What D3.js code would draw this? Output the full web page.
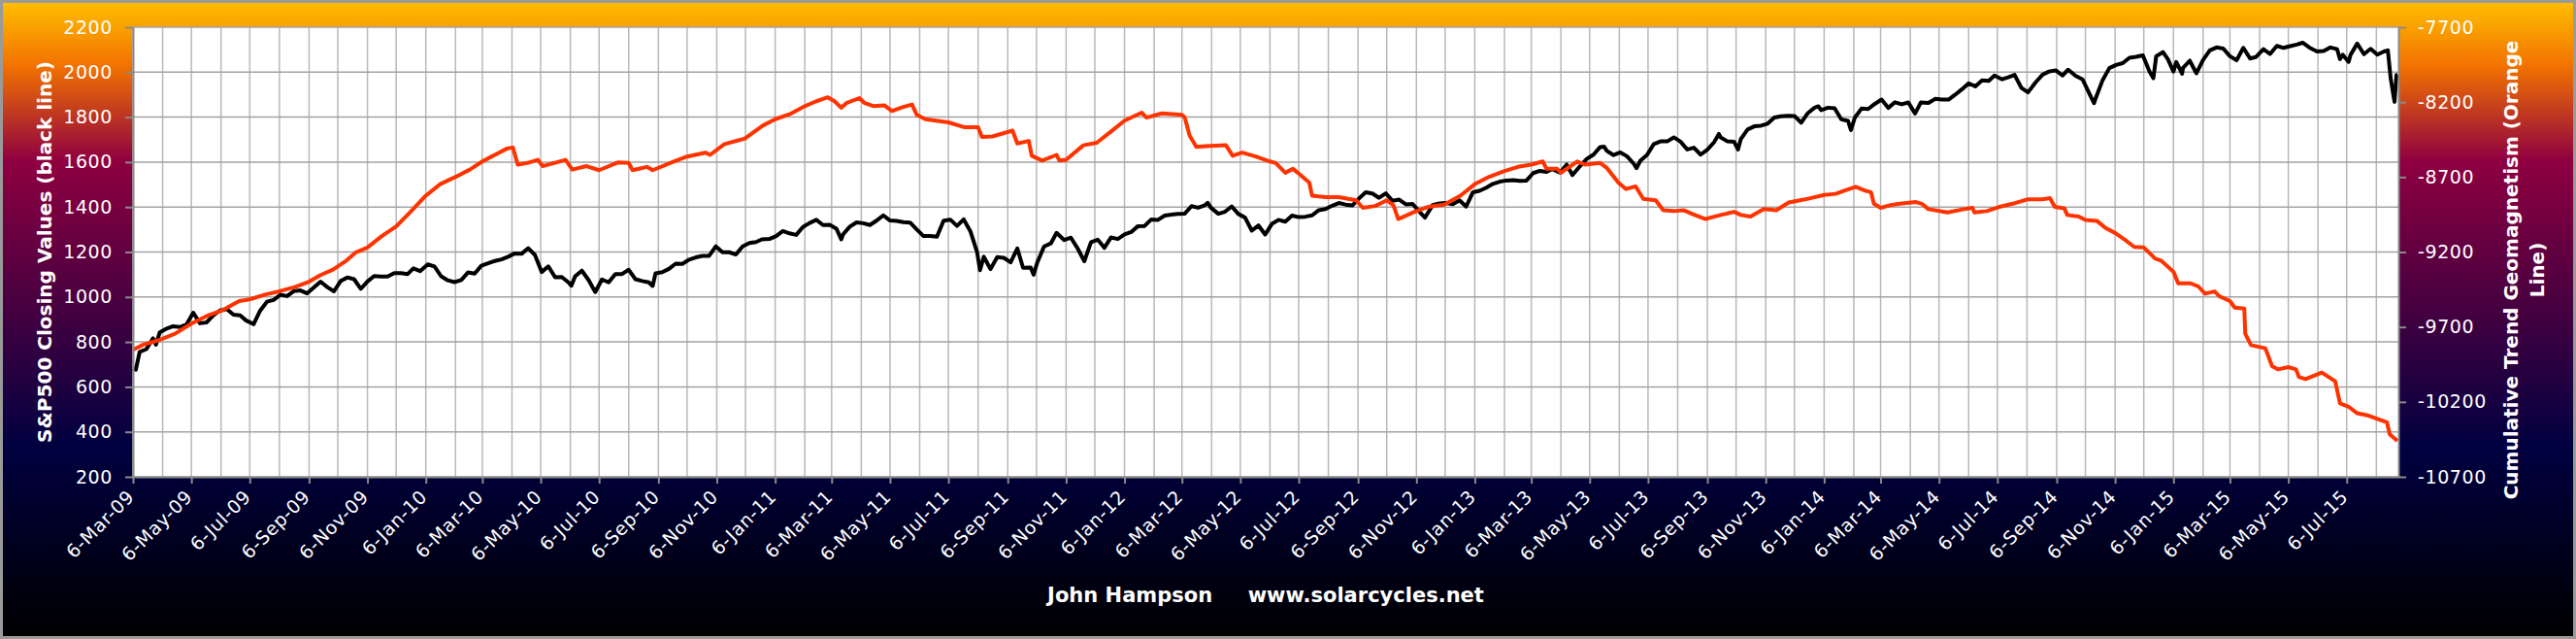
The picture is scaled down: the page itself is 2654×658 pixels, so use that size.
<!DOCTYPE html>
<html lang="en">
<head>
    <meta charset="UTF-8">
    <title>S&amp;P500 vs Cumulative Trend Geomagnetism</title>
    <style>
        html, body { margin: 0; padding: 0; background: #000; }
        svg { display: block; }
        text { font-family: "DejaVu Sans", Verdana, sans-serif; fill: #fff; }
    </style>
</head>
<body>

    <script src="https://d3js.org/d3.v7.min.js"></script>
    <script>
        // S&P500 closes (black line), roughly weekly
        const spxDates = [
            "2009-03-06","2009-03-09","2009-03-13","2009-03-20","2009-03-27","2009-03-30","2009-04-03","2009-04-09","2009-04-17","2009-04-24","2009-05-01","2009-05-08","2009-05-15","2009-05-22","2009-05-29","2009-06-05","2009-06-12","2009-06-19","2009-06-26","2009-07-02","2009-07-10","2009-07-17","2009-07-24","2009-07-31","2009-08-07","2009-08-14","2009-08-21","2009-08-28","2009-09-04","2009-09-11","2009-09-18","2009-09-25","2009-10-02","2009-10-09","2009-10-16","2009-10-23","2009-10-30","2009-11-06","2009-11-13","2009-11-20","2009-11-27","2009-12-04","2009-12-11","2009-12-18","2009-12-24","2009-12-31",
            "2010-01-08","2010-01-15","2010-01-22","2010-01-29","2010-02-05","2010-02-12","2010-02-19","2010-02-26","2010-03-05","2010-03-12","2010-03-19","2010-03-26","2010-04-02","2010-04-09","2010-04-16","2010-04-23","2010-04-30","2010-05-07","2010-05-14","2010-05-21","2010-05-28","2010-06-04","2010-06-07","2010-06-11","2010-06-18","2010-06-25","2010-07-02","2010-07-09","2010-07-16","2010-07-23","2010-07-30","2010-08-06","2010-08-13","2010-08-20","2010-08-27","2010-08-31","2010-09-03","2010-09-10","2010-09-17","2010-09-24","2010-10-01","2010-10-08","2010-10-15","2010-10-22","2010-10-29","2010-11-05","2010-11-12","2010-11-19","2010-11-26","2010-12-03","2010-12-10","2010-12-17","2010-12-23","2010-12-31",
            "2011-01-07","2011-01-14","2011-01-21","2011-01-28","2011-02-04","2011-02-11","2011-02-18","2011-02-25","2011-03-04","2011-03-11","2011-03-16","2011-03-18","2011-03-25","2011-04-01","2011-04-08","2011-04-15","2011-04-21","2011-04-29","2011-05-06","2011-05-13","2011-05-20","2011-05-27","2011-06-03","2011-06-10","2011-06-17","2011-06-24","2011-07-01","2011-07-08","2011-07-15","2011-07-22","2011-07-29","2011-08-05","2011-08-08","2011-08-12","2011-08-19","2011-08-26","2011-09-02","2011-09-09","2011-09-16","2011-09-22","2011-09-30","2011-10-03","2011-10-07","2011-10-14","2011-10-21","2011-10-27","2011-11-04","2011-11-11","2011-11-18","2011-11-25","2011-12-02","2011-12-09","2011-12-16","2011-12-23","2011-12-30",
            "2012-01-06","2012-01-13","2012-01-20","2012-01-27","2012-02-03","2012-02-10","2012-02-17","2012-02-24","2012-03-02","2012-03-09","2012-03-16","2012-03-23","2012-03-30","2012-04-02","2012-04-05","2012-04-13","2012-04-20","2012-04-27","2012-05-04","2012-05-11","2012-05-18","2012-05-25","2012-06-01","2012-06-08","2012-06-15","2012-06-22","2012-06-29","2012-07-06","2012-07-13","2012-07-20","2012-07-27","2012-08-03","2012-08-10","2012-08-17","2012-08-24","2012-08-31","2012-09-07","2012-09-14","2012-09-21","2012-09-28","2012-10-05","2012-10-12","2012-10-19","2012-10-26","2012-11-02","2012-11-09","2012-11-15","2012-11-23","2012-11-30","2012-12-07","2012-12-14","2012-12-21","2012-12-28",
            "2013-01-04","2013-01-11","2013-01-18","2013-01-25","2013-02-01","2013-02-08","2013-02-15","2013-02-22","2013-03-01","2013-03-08","2013-03-15","2013-03-22","2013-03-28","2013-04-05","2013-04-12","2013-04-18","2013-04-26","2013-05-03","2013-05-10","2013-05-17","2013-05-21","2013-05-24","2013-05-31","2013-06-07","2013-06-14","2013-06-21","2013-06-24","2013-06-28","2013-07-05","2013-07-12","2013-07-19","2013-07-26","2013-08-02","2013-08-09","2013-08-16","2013-08-23","2013-08-30","2013-09-06","2013-09-13","2013-09-18","2013-09-20","2013-09-27","2013-10-04","2013-10-08","2013-10-11","2013-10-18","2013-10-25","2013-11-01","2013-11-08","2013-11-15","2013-11-22","2013-11-29","2013-12-06","2013-12-13","2013-12-20","2013-12-27","2013-12-31",
            "2014-01-03","2014-01-10","2014-01-17","2014-01-24","2014-01-31","2014-02-03","2014-02-07","2014-02-14","2014-02-21","2014-02-28","2014-03-07","2014-03-14","2014-03-21","2014-03-28","2014-04-04","2014-04-11","2014-04-17","2014-04-25","2014-05-02","2014-05-09","2014-05-16","2014-05-23","2014-05-30","2014-06-06","2014-06-13","2014-06-20","2014-06-27","2014-07-03","2014-07-11","2014-07-18","2014-07-24","2014-07-31","2014-08-07","2014-08-15","2014-08-22","2014-08-29","2014-09-05","2014-09-12","2014-09-18","2014-09-26","2014-10-03","2014-10-10","2014-10-15","2014-10-17","2014-10-24","2014-10-31","2014-11-07","2014-11-14","2014-11-21","2014-11-28","2014-12-05","2014-12-12","2014-12-16","2014-12-19","2014-12-26","2014-12-31",
            "2015-01-06","2015-01-09","2015-01-15","2015-01-16","2015-01-23","2015-01-30","2015-02-06","2015-02-13","2015-02-20","2015-02-27","2015-03-06","2015-03-13","2015-03-20","2015-03-27","2015-04-02","2015-04-10","2015-04-17","2015-04-24","2015-05-01","2015-05-08","2015-05-15","2015-05-21","2015-05-29","2015-06-05","2015-06-12","2015-06-19","2015-06-26","2015-06-29","2015-07-02","2015-07-08","2015-07-10","2015-07-17","2015-07-24","2015-07-31","2015-08-07","2015-08-14","2015-08-18","2015-08-21","2015-08-24","2015-08-25","2015-08-27","2015-08-28"
        ];
        const spxClose = [
            683,677,756,768,816,788,843,857,870,866,878,930,883,887,919,940,946,921,918,896,879,940,979,987,1010,1004,1026,1029,1016,1042,1068,1044,1025,1071,1087,1079,1036,1069,1093,1091,1091,1106,1106,1102,1127,1115,
            1145,1136,1092,1074,1066,1075,1109,1104,1139,1150,1160,1167,1179,1194,1192,1217,1187,1111,1136,1088,1089,1065,1050,1092,1117,1076,1022,1078,1065,1102,1102,1121,1079,1071,1065,1049,1105,1110,1125,1148,1147,1166,1176,1183,1183,1225,1199,1199,1189,1225,1240,1244,1256,1258,
            1271,1293,1283,1276,1311,1329,1343,1320,1321,1304,1256,1279,1313,1332,1328,1320,1337,1363,1340,1338,1333,1331,1300,1271,1271,1268,1339,1344,1316,1345,1292,1199,1119,1179,1124,1177,1174,1154,1216,1130,1131,1099,1155,1225,1238,1285,1253,1264,1216,1159,1244,1255,1219,1265,1258,
            1278,1289,1315,1316,1345,1343,1362,1366,1370,1371,1404,1397,1408,1419,1398,1370,1379,1403,1369,1353,1295,1318,1278,1325,1343,1335,1362,1355,1357,1363,1386,1391,1406,1418,1411,1407,1438,1466,1460,1441,1461,1428,1433,1412,1414,1380,1353,1409,1416,1418,1413,1430,1402,
            1466,1472,1486,1503,1513,1518,1520,1516,1518,1551,1561,1556,1569,1553,1589,1542,1582,1614,1633,1667,1669,1650,1631,1643,1626,1593,1573,1606,1632,1680,1692,1692,1710,1691,1656,1664,1633,1655,1688,1725,1710,1692,1690,1656,1703,1745,1759,1762,1771,1798,1804,1806,1805,1775,1818,1842,1848,
            1831,1842,1839,1790,1783,1742,1797,1838,1836,1859,1878,1841,1866,1857,1865,1816,1865,1863,1881,1878,1878,1900,1924,1950,1937,1963,1961,1985,1968,1978,1988,1931,1910,1955,1988,2003,2008,1985,2011,1983,1968,1906,1862,1887,1965,2018,2032,2040,2064,2068,2075,2002,1973,2071,2089,2059,
            2003,2045,1993,2019,2051,1995,2055,2097,2110,2105,2071,2053,2108,2061,2067,2102,2081,2117,2108,2116,2123,2131,2107,2092,2094,2110,2102,2058,2077,2046,2077,2127,2080,2104,2078,2092,2097,1971,1893,1868,1988,1989
        ];

        // Cumulative trend geomagnetism (orange line, right axis)
        const geoDates = [
            "2009-03-06","2009-03-16","2009-04-02","2009-04-19","2009-05-06","2009-05-23","2009-06-06","2009-06-25","2009-07-06","2009-07-23","2009-08-06","2009-08-22","2009-09-06","2009-09-18","2009-10-01","2009-10-15","2009-10-25","2009-11-06","2009-11-21","2009-12-06","2009-12-21",
            "2010-01-06","2010-01-21","2010-02-06","2010-02-21","2010-03-06","2010-03-22","2010-04-01","2010-04-07","2010-04-12","2010-04-22","2010-05-03","2010-05-08","2010-05-20","2010-06-01","2010-06-08","2010-06-23","2010-07-06","2010-07-26","2010-08-06","2010-08-10","2010-08-25","2010-08-31","2010-09-22","2010-10-06","2010-10-25","2010-10-30","2010-11-14","2010-12-05","2010-12-24",
            "2011-01-06","2011-01-21","2011-02-06","2011-02-18","2011-03-02","2011-03-09","2011-03-16","2011-03-22","2011-04-04","2011-04-09","2011-04-19","2011-04-30","2011-05-08","2011-05-19","2011-05-29","2011-06-03","2011-06-12","2011-06-23","2011-07-06","2011-07-23","2011-08-06","2011-08-10","2011-08-21","2011-09-11","2011-09-16","2011-09-28","2011-10-01","2011-10-12","2011-10-27","2011-10-30","2011-11-06","2011-11-24","2011-12-08","2011-12-22",
            "2012-01-06","2012-01-24","2012-01-29","2012-02-14","2012-03-06","2012-03-09","2012-03-14","2012-03-21","2012-03-31","2012-04-21","2012-04-28","2012-05-08","2012-05-22","2012-06-06","2012-06-12","2012-06-22","2012-06-30","2012-07-05","2012-07-17","2012-07-20","2012-08-03","2012-08-17","2012-09-04","2012-09-11","2012-09-24","2012-10-06","2012-10-13","2012-10-18","2012-11-04","2012-11-18","2012-12-05","2012-12-22",
            "2013-01-06","2013-01-21","2013-02-06","2013-02-20","2013-03-06","2013-03-18","2013-03-22","2013-04-02","2013-04-06","2013-04-23","2013-05-01","2013-05-17","2013-05-24","2013-06-05","2013-06-13","2013-06-23","2013-07-01","2013-07-14","2013-07-22","2013-08-02","2013-08-12","2013-08-22","2013-09-04","2013-09-20","2013-10-04","2013-10-11","2013-10-21","2013-11-04","2013-11-17","2013-11-30","2013-12-17",
            "2014-01-06","2014-01-18","2014-01-27","2014-02-08","2014-02-18","2014-02-24","2014-02-27","2014-03-06","2014-03-16","2014-03-26","2014-04-12","2014-04-18","2014-04-25","2014-05-15","2014-06-01","2014-06-10","2014-06-12","2014-06-25","2014-07-08","2014-07-22","2014-08-06","2014-08-22","2014-08-30","2014-09-04","2014-09-14","2014-09-17","2014-09-29","2014-10-06","2014-10-18","2014-10-27","2014-11-06","2014-11-18","2014-11-26","2014-12-06","2014-12-18","2014-12-24",
            "2015-01-06","2015-01-11","2015-01-24","2015-02-01","2015-02-08","2015-02-18","2015-02-23","2015-03-06","2015-03-11","2015-03-21","2015-03-22","2015-03-28","2015-04-12","2015-04-19","2015-04-25","2015-05-06","2015-05-14","2015-05-17","2015-05-24","2015-06-10","2015-06-24","2015-06-29","2015-07-08","2015-07-17","2015-07-29","2015-08-17","2015-08-20","2015-08-28"
        ];
        const geoTrend = [
            -9853,-9820,-9788,-9745,-9678,-9624,-9593,-9527,-9516,-9483,-9462,-9434,-9398,-9354,-9317,-9257,-9202,-9170,-9094,-9029,-8932,
            -8824,-8747,-8699,-8650,-8596,-8542,-8509,-8503,-8617,-8606,-8585,-8627,-8606,-8585,-8650,-8627,-8654,-8602,-8606,-8654,-8632,-8654,-8596,-8563,-8537,-8552,-8480,-8444,-8357,
            -8314,-8281,-8227,-8194,-8168,-8194,-8237,-8204,-8173,-8204,-8227,-8221,-8260,-8234,-8216,-8285,-8314,-8324,-8335,-8368,-8368,-8432,-8429,-8390,-8476,-8459,-8558,-8590,-8552,-8590,-8585,-8488,-8471,-8401,
            -8324,-8270,-8303,-8275,-8285,-8303,-8422,-8498,-8494,-8488,-8558,-8537,-8563,-8596,-8606,-8671,-8645,-8671,-8737,-8824,-8834,-8834,-8855,-8905,-8893,-8855,-8888,-8980,-8932,-8899,-8884,-8824,
            -8747,-8698,-8660,-8632,-8617,-8596,-8645,-8645,-8671,-8596,-8617,-8606,-8639,-8737,-8780,-8762,-8845,-8855,-8921,-8927,-8921,-8948,-8980,-8953,-8932,-8953,-8963,-8914,-8921,-8870,-8849,
            -8819,-8812,-8791,-8765,-8791,-8801,-8878,-8905,-8888,-8878,-8867,-8878,-8914,-8936,-8914,-8905,-8936,-8927,-8899,-8878,-8849,-8849,-8840,-8899,-8909,-8953,-8963,-8986,-8992,-9040,-9073,-9127,-9166,-9170,-9245,-9257,
            -9332,-9409,-9409,-9430,-9478,-9463,-9496,-9527,-9571,-9577,-9745,-9821,-9842,-9961,-9983,-9968,-9983,-10033,-10048,-10004,-10063,-10210,-10232,-10276,-10292,-10336,-10417,-10460
        ];

        // Axis tick values
        const leftTicks = [200, 400, 600, 800, 1000, 1200, 1400, 1600, 1800, 2000, 2200];
        const rightTicks = [-10700, -10200, -9700, -9200, -8700, -8200, -7700];

        const W = 2654, H = 658,
            margin = {top: 28, right: 183, bottom: 167, left: 137},
            width = W - margin.left - margin.right,
            height = H - margin.top - margin.bottom,
            parse = d3.timeParse("%Y-%m-%d");

        const spx = spxDates.map((d, i) => ({date: parse(d), value: spxClose[i]}));
        const geo = geoDates.map((d, i) => ({date: parse(d), value: geoTrend[i]}));

        const x = d3.scaleTime()
            .domain([new Date(2009, 2, 6), new Date(2015, 7, 29)])
            .range([0, width]);
        const yLeft = d3.scaleLinear().domain([200, 2200]).range([height, 0]);
        const yRight = d3.scaleLinear().domain([-10700, -7700]).range([height, 0]);

        // gridlines fall on the 6th of every month, labels every second month
        const months = d3.timeMonth.range(new Date(2009, 2, 1), new Date(2015, 8, 1))
            .map(d => d3.timeDay.offset(d, 5));
        const labelMonths = months.filter((d, i) => i % 2 === 0);

        const svg = d3.select("body").append("svg")
            .attr("width", W)
            .attr("height", H);

        // "late sunset" background
        const grad = svg.append("defs").append("linearGradient")
            .attr("id", "sunset")
            .attr("x1", 0).attr("y1", 0).attr("x2", 0).attr("y2", 1);
        [[0, "#ffbf00"], [0.1, "#f27300"], [0.25, "#8f0040"], [0.5, "#400040"], [0.7, "#000040"], [1, "#000000"]]
            .forEach(s => grad.append("stop").attr("offset", s[0]).attr("stop-color", s[1]));

        svg.append("rect")
            .attr("x", 1.5).attr("y", 1.5)
            .attr("width", W - 3).attr("height", H - 3)
            .attr("fill", "url(#sunset)")
            .attr("stroke", "#9a9a9a")
            .attr("stroke-width", 3);

        const g = svg.append("g")
            .attr("transform", "translate(" + margin.left + "," + margin.top + ")");

        g.append("rect")
            .attr("width", width)
            .attr("height", height)
            .attr("fill", "#fff");

        g.selectAll(".vgrid")
            .data(months)
            .enter().append("line")
            .attr("x1", d => x(d)).attr("x2", d => x(d))
            .attr("y1", 0).attr("y2", height)
            .attr("stroke", "#b9b9b9")
            .attr("stroke-width", 1.5);

        g.selectAll(".hgrid")
            .data(leftTicks)
            .enter().append("line")
            .attr("x1", 0).attr("x2", width)
            .attr("y1", d => yLeft(d)).attr("y2", d => yLeft(d))
            .attr("stroke", "#a3a3a3")
            .attr("stroke-width", 1.5);

        const spxLine = d3.line()
            .x(d => x(d.date))
            .y(d => yLeft(d.value));
        const geoLine = d3.line()
            .x(d => x(d.date))
            .y(d => yRight(d.value));

        g.append("path")
            .datum(spx)
            .attr("fill", "none")
            .attr("stroke", "#000")
            .attr("stroke-width", 4)
            .attr("stroke-linejoin", "round")
            .attr("d", spxLine);

        g.append("path")
            .datum(geo)
            .attr("fill", "none")
            .attr("stroke", "#ff3300")
            .attr("stroke-width", 4)
            .attr("stroke-linejoin", "round")
            .attr("d", geoLine);

        // axes
        function styleAxis(sel) {
            sel.selectAll(".domain").attr("stroke", "#8a8a8a").attr("stroke-width", 2);
            sel.selectAll(".tick line").attr("stroke", "#8a8a8a").attr("stroke-width", 2);
            sel.selectAll("text")
                .attr("fill", "#fff")
                .style("font-size", "19px")
                .style("letter-spacing", "0.6px");
        }

        g.append("g")
            .call(d3.axisLeft(yLeft).tickValues(leftTicks).tickFormat(d3.format("d")).tickSize(8).tickPadding(13).tickSizeOuter(0))
            .call(styleAxis);

        g.append("g")
            .attr("transform", "translate(" + width + ",0)")
            .call(d3.axisRight(yRight).tickValues(rightTicks).tickFormat(d => String(d)).tickSize(8).tickPadding(12).tickSizeOuter(0))
            .call(styleAxis);

        g.append("g")
            .attr("transform", "translate(0," + height + ")")
            .call(d3.axisBottom(x).tickValues(labelMonths).tickFormat(d3.timeFormat("%-d-%b-%y")).tickSize(7).tickSizeOuter(0))
            .call(styleAxis)
            .selectAll("text")
            .attr("text-anchor", "end")
            .attr("x", -14)
            .attr("y", 10)
            .attr("dy", "0.35em")
            .attr("transform", "rotate(-45)");

        // axis titles
        svg.append("text")
            .attr("transform", "translate(46," + (margin.top + height / 2) + ") rotate(-90)")
            .attr("text-anchor", "middle")
            .attr("dominant-baseline", "central")
            .style("font-size", "20px")
            .style("font-weight", "bold")
            .text("S&P500 Closing Values (black line)");

        const rightTitle = svg.append("text")
            .attr("transform", "translate(2587,278) rotate(-90)")
            .attr("text-anchor", "middle")
            .style("font-size", "20px")
            .style("font-weight", "bold");
        rightTitle.append("tspan")
            .attr("x", 0).attr("dy", "0.35em")
            .text("Cumulative Trend Geomagnetism (Orange");
        rightTitle.append("tspan")
            .attr("x", 0).attr("dy", "1.35em")
            .text("Line)");

        svg.append("text")
            .attr("x", margin.left + width / 2)
            .attr("y", 613)
            .attr("text-anchor", "middle")
            .attr("dominant-baseline", "central")
            .style("font-size", "21px")
            .style("font-weight", "bold")
            .text("John Hampson\u00a0\u00a0\u00a0\u00a0\u00a0www.solarcycles.net");
    </script>
</body>
</html>
